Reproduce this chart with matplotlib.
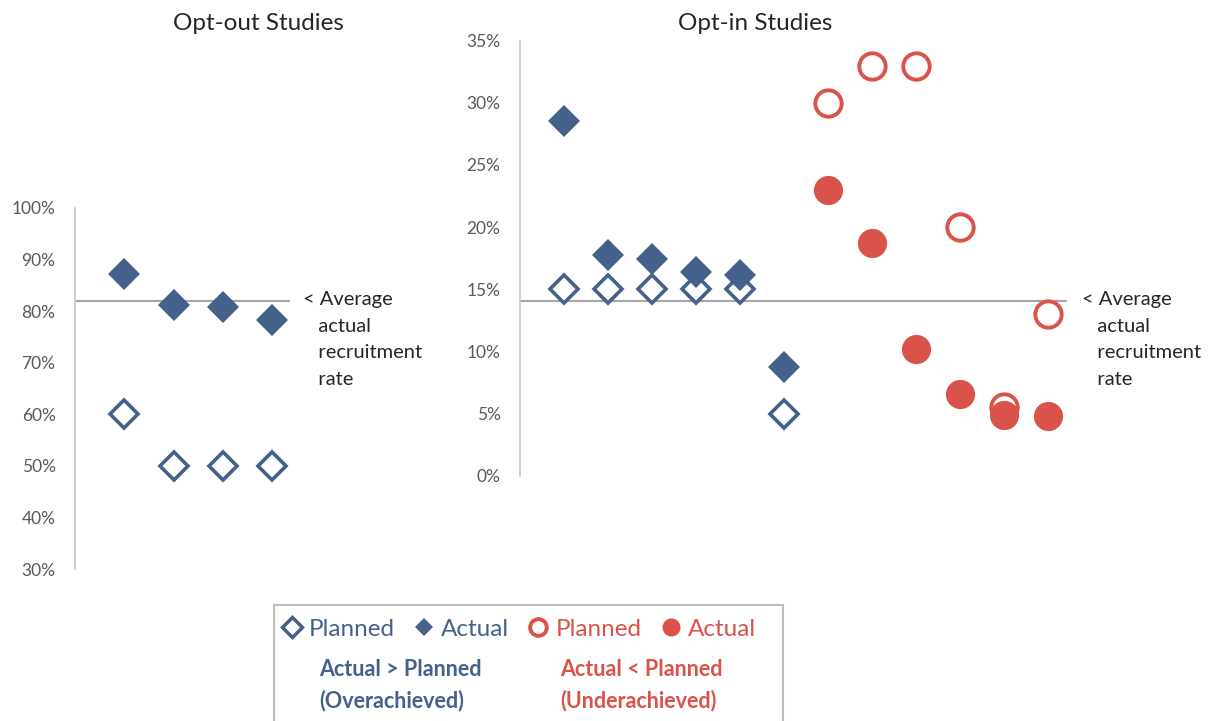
import matplotlib.pyplot as plt
from matplotlib.lines import Line2D
from matplotlib.patches import Rectangle
from matplotlib.ticker import PercentFormatter

plt.rcParams['font.family'] = ['Lato', 'DejaVu Sans']

BLUE = '#46608C'
RED = '#D9534A'
GREY_TXT = '#595959'

# opt-out studies
out_x = [1, 2, 3, 4]
out_planned = [0.60, 0.50, 0.50, 0.50]
out_actual = [0.872, 0.812, 0.809, 0.783]
out_avg = 0.82

# opt-in studies, overachieved (blue) and underachieved (red)
in_blue_x = [1, 2, 3, 4, 5, 6]
in_blue_planned = [0.15, 0.15, 0.15, 0.15, 0.15, 0.05]
in_blue_actual = [0.285, 0.1775, 0.174, 0.164, 0.1615, 0.0877]
in_red_x = [7, 8, 9, 10, 11, 12]
in_red_planned = [0.30, 0.33, 0.33, 0.20, 0.055, 0.13]
in_red_actual = [0.23, 0.1875, 0.102, 0.0655, 0.0488, 0.048]
in_avg = 0.1405

W, H = 1212, 721
fig = plt.figure(figsize=(W / 100, H / 100), dpi=100)


def px_axes(x0, x1, ytop, ybot):
    return fig.add_axes([x0 / W, (H - ybot) / H, (x1 - x0) / W, (ybot - ytop) / H])


def style(ax):
    for s in ['top', 'right', 'bottom']:
        ax.spines[s].set_visible(False)
    ax.spines['left'].set_color('#C8C8C8')
    ax.spines['left'].set_linewidth(1.2)
    ax.set_xticks([])
    ax.tick_params(axis='y', length=0, pad=14, labelsize=12.5, labelcolor=GREY_TXT)
    ax.yaxis.set_major_formatter(PercentFormatter(1.0, decimals=0))
    ax.set_facecolor('none')


def draw(ax, x, planned, actual, color, kind):
    if kind == 'diamond':
        ax.plot(x, planned, 'D', ms=14, mfc='white', mec=color, mew=2.6, ls='none', zorder=3)
        ax.plot(x, actual, 'D', ms=16.5, mfc=color, mec=color, mew=0, ls='none', zorder=4)
    else:
        ax.plot(x, planned, 'o', ms=19, mfc='white', mec=color, mew=2.8, ls='none', zorder=3)
        ax.plot(x, actual, 'o', ms=21, mfc=color, mec=color, mew=0, ls='none', zorder=4)


# left panel
ax1 = px_axes(75, 289.6, 208, 569)
style(ax1)
ax1.set_xlim(0, 4.35)
ax1.set_ylim(0.30, 1.00)
ax1.set_yticks([0.3, 0.4, 0.5, 0.6, 0.7, 0.8, 0.9, 1.0])
ax1.axhline(out_avg, color='#A6A6A6', lw=1.5, zorder=1)
draw(ax1, out_x, out_planned, out_actual, BLUE, 'diamond')

# right panel
ax2 = px_axes(520, 1067, 40.7, 475.7)
style(ax2)
ax2.set_xlim(0, 12.43)
ax2.set_ylim(0, 0.35)
ax2.set_yticks([0, 0.05, 0.10, 0.15, 0.20, 0.25, 0.30, 0.35])
ax2.axhline(in_avg, color='#A6A6A6', lw=1.5, zorder=1)
draw(ax2, in_blue_x, in_blue_planned, in_blue_actual, BLUE, 'diamond')
draw(ax2, in_red_x, in_red_planned, in_red_actual, RED, 'circle')

# titles
fig.text(258 / W, 1 - 23 / H, 'Opt-out Studies', ha='center', va='center', fontsize=17.5, color='#262626')
fig.text(755 / W, 1 - 23 / H, 'Opt-in Studies', ha='center', va='center', fontsize=17.5, color='#262626')

# average annotations
note = '< Average\n   actual\n   recruitment\n   rate'
for xa, ya in [(303, 300), (1082, 300)]:
    fig.text(xa / W, 1 - (ya - 9) / H, note, ha='left', va='top', fontsize=14.5,
             color='#262626', linespacing=1.68)

# legend box
fig.patches.append(Rectangle((274 / W, -0.05), (783 - 274) / W, 0.05 + (H - 605) / H,
                             transform=fig.transFigure, fill=False, ec='#BFBFBF', lw=1.5))

handles = [
    Line2D([], [], marker='D', ls='none', ms=10, mfc='white', mec=BLUE, mew=2.5),
    Line2D([], [], marker='D', ls='none', ms=9, mfc=BLUE, mec=BLUE, mew=0),
    Line2D([], [], marker='o', ls='none', ms=12, mfc='white', mec=RED, mew=2.8),
    Line2D([], [], marker='o', ls='none', ms=13, mfc=RED, mec=RED, mew=0),
]
labels = ['Planned', 'Actual', 'Planned', 'Actual']
leg = fig.legend(handles, labels, ncol=4, loc='center', bbox_to_anchor=(519 / W, 1 - 629 / H),
                 frameon=False, fontsize=17.5, handlelength=0.8, handletextpad=0.3,
                 columnspacing=0.8)
for t, c in zip(leg.get_texts(), [BLUE, BLUE, RED, RED]):
    t.set_color(c)

fig.text(319 / W, 1 - 685 / H, 'Actual > Planned\n(Overachieved)', ha='left', va='center',
         fontsize=15.5, fontweight='bold', color=BLUE, linespacing=1.55)
fig.text(560 / W, 1 - 685 / H, 'Actual < Planned\n(Underachieved)', ha='left', va='center',
         fontsize=15.5, fontweight='bold', color=RED, linespacing=1.55)

fig.savefig('out.png', dpi=100)
